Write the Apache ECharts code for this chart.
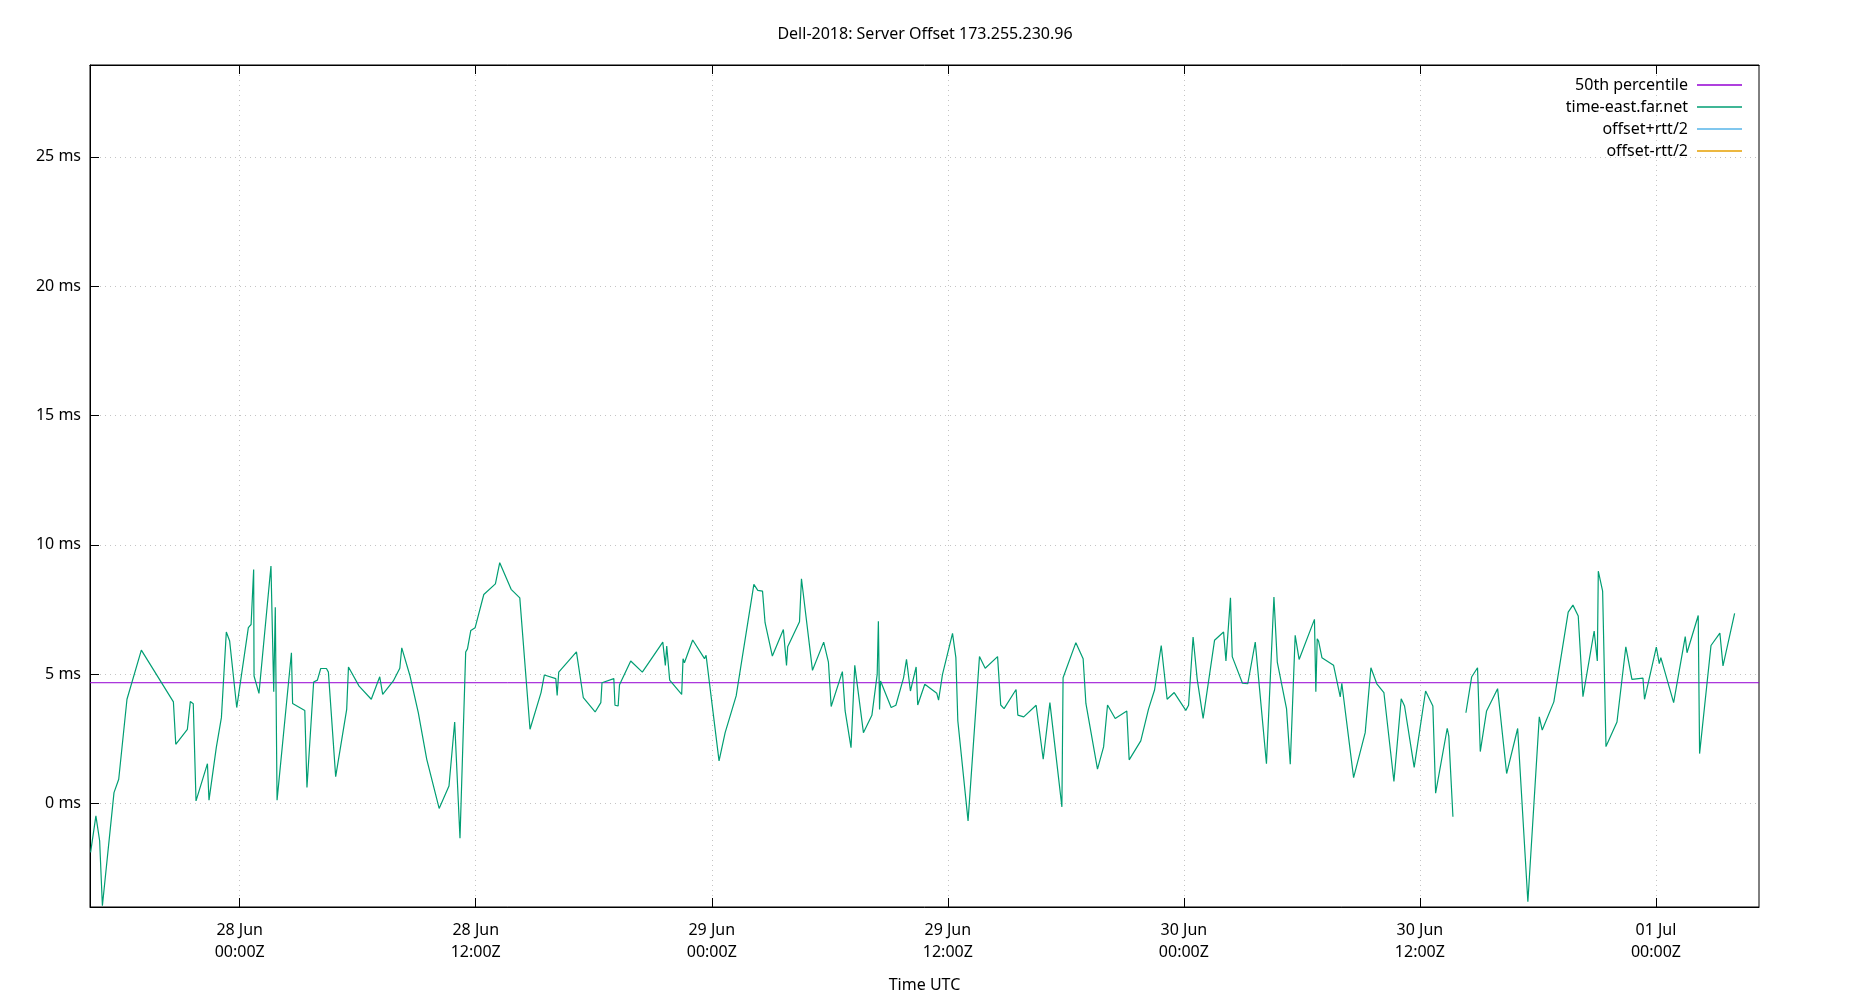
<!DOCTYPE html>
<html>
<head>
<meta charset="utf-8">
<title>Dell-2018: Server Offset 173.255.230.96</title>
<script src="https://cdn.jsdelivr.net/npm/echarts@6/dist/echarts.min.js"></script>
<style>
  html, body { margin: 0; padding: 0; background: #fff; }
  #chart { width: 1850px; height: 1000px; }
</style>
</head>
<body>
<div id="chart"></div>
<script>
// sample times, in hours from 2018-06-28 00:00Z (null offset = gap in the data)
const sampleHours = [
  -7.58, -7.31, -7.12, -6.98, -6.39, -6.15, -5.73, -5.00, -3.37, -3.25,
  -2.66, -2.51, -2.36, -2.22, -1.64, -1.56, -1.19, -0.93, -0.68, -0.51,
  -0.15, 0.44, 0.58, 0.71, 0.73, 0.98, 1.59, 1.73, 1.81, 1.90,
  2.63, 2.69, 3.31, 3.42, 3.76, 3.95, 4.12, 4.41, 4.51,
  4.88, 5.44, 5.53, 6.07, 6.69, 7.12, 7.27, 7.81, 8.14, 8.24,
  8.66, 9.08, 9.51, 10.14, 10.64, 10.93, 11.20, 11.49, 11.58, 11.75,
  11.97, 12.41, 13.00, 13.22, 13.80, 14.24, 14.76, 15.32, 15.49, 16.07,
  16.14, 16.22,
  17.12, 17.47, 18.07, 18.36, 18.42, 19.02, 19.08, 19.24, 19.31, 19.88,
  20.47, 21.51, 21.64, 21.71, 21.86, 22.47, 22.54, 22.61, 23.03, 23.63,
  23.71, 24.37, 24.68, 25.24, 26.14, 26.34, 26.58, 26.71, 27.08, 27.64,
  27.80, 27.86, 28.46, 28.56,
  29.12, 29.69, 29.93, 30.07, 30.64, 30.78, 31.08, 31.27, 31.71, 32.14,
  32.41, 32.47, 32.53, 32.58, 33.12, 33.36, 33.75, 33.90, 34.10, 34.39,
  34.47, 34.83, 35.44, 35.53, 35.73, 36.24, 36.41, 36.51, 37.03, 37.61,
  37.90, 38.53, 38.69, 38.86, 39.47, 39.56, 39.86, 40.49, 40.85, 41.19,
  41.80, 41.86, 42.51, 42.88, 43.02, 43.61, 43.92, 44.12, 44.51, 45.10,
  45.22, 45.81, 46.20, 46.51, 46.85, 47.15, 47.51, 48.10, 48.24, 48.47,
  48.68, 48.98, 49.56, 50.02, 50.14, 50.37, 50.46, 50.98, 51.25, 51.63,
  52.20, 52.58, 52.75, 53.22, 53.41,
  53.66, 53.86, 54.64, 54.71, 54.78, 54.85, 55.02, 55.61, 55.95, 56.03,
  56.63, 57.22, 57.51, 57.81, 58.17, 58.68, 59.05, 59.22, 59.71, 60.29,
  60.66, 60.80, 61.39, 61.47, 61.68, 62.00,
  62.34, 62.63, 62.93, 63.07, 63.39, 63.95, 64.41, 64.97, 65.49,
  66.07, 66.22, 66.81, 67.54, 67.78, 68.05, 68.29, 68.86, 69.02, 69.07,
  69.29, 69.46, 70.02, 70.47, 70.78, 71.34, 71.42, 72.02, 72.17, 72.25,
  72.90, 73.49, 73.58, 74.15, 74.22, 74.80, 75.25, 75.41, 76.00
]

// time-east.far.net offset, ms
const offsetMs = [
  -1.89, -0.48, -1.44, -3.95, 0.42, 0.94, 4.03, 5.93, 3.93, 2.29,
  2.87, 3.94, 3.86, 0.10, 1.54, 0.13, 2.16, 3.32, 6.63, 6.28,
  3.71, 6.80, 6.92, 9.05, 4.93, 4.26, 9.18, 4.32, 7.59, 0.13,
  5.83, 3.87, 3.60, 0.62, 4.70, 4.77, 5.22, 5.22, 5.08,
  1.04, 3.64, 5.28, 4.54, 4.03, 4.90, 4.22, 4.74, 5.23, 6.02,
  4.93, 3.51, 1.71, -0.19, 0.68, 3.15, -1.34, 5.86, 5.98, 6.69,
  6.80, 8.08, 8.49, 9.31, 8.28, 7.95, 2.87, 4.29, 4.97, 4.83,
  4.18, 5.08,
  5.86, 4.09, 3.54, 3.90, 4.67, 4.83, 3.80, 3.77, 4.59, 5.51,
  5.08, 6.24, 5.34, 6.09, 4.77, 4.22, 5.60, 5.44, 6.32, 5.60,
  5.73, 1.65, 2.74, 4.16, 8.47, 8.24, 8.21, 6.99, 5.70, 6.73,
  5.34, 6.06, 7.03, 8.69,
  5.15, 6.24, 5.47, 3.75, 5.10, 3.58, 2.16, 5.34, 2.74, 3.41,
  4.99, 7.05, 3.64, 4.74, 3.71, 3.80, 4.86, 5.57, 4.35, 5.28,
  3.81, 4.61, 4.26, 4.00, 4.99, 6.58, 5.64, 3.19, -0.67, 5.68,
  5.23, 5.68, 3.81, 3.67, 4.41, 3.42, 3.35, 3.80, 1.71, 3.90,
  -0.13, 4.86, 6.22, 5.60, 3.87, 1.33, 2.19, 3.81, 3.29, 3.58,
  1.69, 2.42, 3.64, 4.39, 6.11, 4.03, 4.29, 3.60, 3.80, 6.44,
  4.80, 3.29, 6.31, 6.63, 5.51, 7.95, 5.68, 4.65, 4.63, 6.24,
  1.54, 7.98, 5.47, 3.67, 1.52,
  6.50, 5.57, 7.12, 4.32, 6.37, 6.28, 5.64, 5.35, 4.12, 4.65,
  1.00, 2.74, 5.25, 4.63, 4.29, 0.85, 4.05, 3.77, 1.40, 4.35,
  3.77, 0.40, 2.91, 2.61, -0.51, null,
  3.51, 4.89, 5.25, 2.01, 3.58, 4.44, 1.16, 2.90, -3.80,
  3.35, 2.84, 3.93, 7.40, 7.67, 7.25, 4.13, 6.67, 5.51, 8.98,
  8.21, 2.20, 3.15, 6.06, 4.80, 4.85, 4.03, 6.05, 5.41, 5.64,
  3.90, 6.45, 5.83, 7.27, 1.93, 6.11, 6.59, 5.32, 7.35
]

const median50 = 4.67
const rttPlus = []
const rttMinus = []

const xTicks = [
  '2018-06-28T00:00Z', '2018-06-28T12:00Z', '2018-06-29T00:00Z', '2018-06-29T12:00Z',
  '2018-06-30T00:00Z', '2018-06-30T12:00Z', '2018-07-01T00:00Z',
]
const yTicks = [0, 5, 10, 15, 20, 25]

const HOUR = 3600 * 1000
const T0 = Date.parse('2018-06-28T00:00Z')
const xMin = T0 - 7.61 * HOUR
const xMax = T0 + 77.24 * HOUR
const xTickValues = xTicks.map((s) => Date.parse(s))

const MONTHS = ['Jan', 'Feb', 'Mar', 'Apr', 'May', 'Jun', 'Jul', 'Aug', 'Sep', 'Oct', 'Nov', 'Dec']
const pad = (n) => String(n).padStart(2, '0')
const fmtTime = (v) => {
  const d = new Date(v)
  return `${pad(d.getUTCDate())} ${MONTHS[d.getUTCMonth()]}\n${pad(d.getUTCHours())}:${pad(d.getUTCMinutes())}Z`
}

const FONT = 'Noto Sans'
const INK = '#000'
const GRID_LINE = { color: '#c4c4c4', width: 1, type: [1, 4] }

const offsetData = sampleHours.map((h, i) => [T0 + h * HOUR, offsetMs[i] == null ? '-' : offsetMs[i]])

const chart = echarts.init(document.getElementById('chart'))
chart.setOption({
  animation: false,
  backgroundColor: '#fff',
  textStyle: { fontFamily: FONT, color: INK },
  title: {
    text: 'Dell-2018: Server Offset 173.255.230.96',
    left: 'center',
    top: 21,
    textStyle: { fontFamily: FONT, fontSize: 16, fontWeight: 'normal', color: INK },
  },
  legend: {
    orient: 'vertical',
    right: 103,
    top: 72,
    align: 'right',
    icon: 'rect',
    itemWidth: 45,
    itemHeight: 1.5,
    itemGap: 6,
    selectedMode: false,
    textStyle: { fontFamily: FONT, fontSize: 16, color: INK, padding: [0, 4, 0, 0] },
    data: ['50th percentile', 'time-east.far.net', 'offset+rtt/2', 'offset-rtt/2'],
  },
  grid: {
    left: 90,
    right: 91,
    top: 65,
    bottom: 93,
    show: true,
    borderColor: INK,
    borderWidth: 1,
    backgroundColor: 'transparent',
  },
  xAxis: [
    {
      type: 'value',
      min: xMin,
      max: xMax,
      axisLine: { show: true, onZero: false, lineStyle: { color: INK } },
      axisTick: { show: true, inside: true, length: 9, customValues: xTickValues, lineStyle: { color: INK } },
      axisLabel: {
        customValues: xTickValues,
        formatter: fmtTime,
        color: INK,
        fontFamily: FONT,
        fontSize: 16,
        lineHeight: 22,
        margin: 12,
      },
      splitLine: { show: true, lineStyle: GRID_LINE },
      name: 'Time UTC',
      nameLocation: 'middle',
      nameGap: 70,
      nameTextStyle: { fontFamily: FONT, fontSize: 16, color: INK },
    },
    {
      type: 'value',
      position: 'top',
      min: xMin,
      max: xMax,
      axisLine: { show: true, onZero: false, lineStyle: { color: INK } },
      axisTick: { show: true, inside: true, length: 9, customValues: xTickValues, lineStyle: { color: INK } },
      axisLabel: { show: false },
      splitLine: { show: false },
    },
  ],
  yAxis: {
    type: 'value',
    min: -4,
    max: 28.55,
    axisLine: { show: true, onZero: false, lineStyle: { color: INK } },
    axisTick: { show: true, inside: true, length: 9, customValues: yTicks, lineStyle: { color: INK } },
    axisLabel: {
      customValues: yTicks,
      formatter: '{value} ms',
      color: INK,
      fontFamily: FONT,
      fontSize: 16,
      margin: 9,
    },
    splitLine: { show: true, lineStyle: GRID_LINE },
  },
  series: [
    {
      name: '50th percentile',
      type: 'line',
      symbol: 'none',
      data: [[xMin, median50], [xMax, median50]],
      itemStyle: { color: '#9400d3' },
      lineStyle: { color: '#9400d3', width: 1 },
    },
    {
      name: 'time-east.far.net',
      type: 'line',
      symbol: 'none',
      connectNulls: false,
      data: offsetData,
      itemStyle: { color: '#009e73' },
      lineStyle: { color: '#009e73', width: 1.2 },
    },
    {
      name: 'offset+rtt/2',
      type: 'line',
      symbol: 'none',
      data: rttPlus,
      itemStyle: { color: '#56b4e9' },
      lineStyle: { color: '#56b4e9', width: 1.2 },
    },
    {
      name: 'offset-rtt/2',
      type: 'line',
      symbol: 'none',
      data: rttMinus,
      itemStyle: { color: '#e69f00' },
      lineStyle: { color: '#e69f00', width: 1.2 },
    },
  ],
})
</script>
</body>
</html>
